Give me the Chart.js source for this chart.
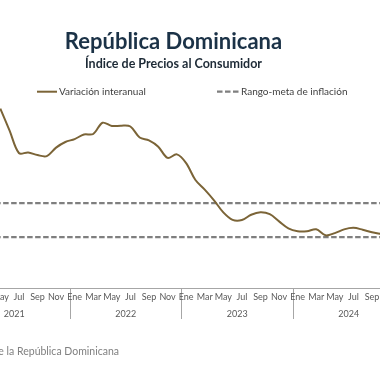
<!DOCTYPE html>
<html><head><meta charset="utf-8">
<script src="https://cdn.jsdelivr.net/npm/chart.js@4.4.1/dist/chart.umd.min.js"></script>
<style>
html,body{margin:0;padding:0;background:#fff;overflow:hidden;width:380px;height:380px;}
#wrap{position:absolute;left:-60px;top:0;width:467px;height:380px;}
</style></head><body>
<div id="wrap"><canvas id="c" width="467" height="380"></canvas></div>
<script>
// ---- data ----
const mesesAno = ['Ene','Feb','Mar','Abr','May','Jun','Jul','Ago','Sep','Oct','Nov','Dic'];
const anos = ['2021','2022','2023','2024'];
const categorias = [].concat(mesesAno, mesesAno, mesesAno, mesesAno);
const variacionInteranual = [
  null, null, null, null, 10.55, 9.26, 7.94, 7.97, 7.82, 7.76, 8.26, 8.59,
  8.76, 9.03, 9.06, 9.72, 9.53, 9.55, 9.50, 8.85, 8.68, 8.31, 7.65, 7.86,
  7.35, 6.35, 5.79, 5.16, 4.45, 4.01, 4.00, 4.31, 4.45, 4.34, 3.92, 3.51,
  3.34, 3.34, 3.45, 3.10, 3.23, 3.45, 3.54, 3.43, 3.28, 3.18, null, null
];
const metaSuperior = [
  5,5,5,5,5,5,5,5,5,5,5,5, 5,5,5,5,5,5,5,5,5,5,5,5,
  5,5,5,5,5,5,5,5,5,5,5,5, 5,5,5,5,5,5,5,5,5,5,5,5
];
const metaInferior = [
  3,3,3,3,3,3,3,3,3,3,3,3, 3,3,3,3,3,3,3,3,3,3,3,3,
  3,3,3,3,3,3,3,3,3,3,3,3, 3,3,3,3,3,3,3,3,3,3,3,3
];
const etiquetaSerie = 'Variación interanual';
const etiquetaMeta = 'Rango-meta de inflación';
const fuente = 'Fuente: Banco Central de la República Dominicana';

// ---- styles ----
const PX = 60; // page -> canvas x offset
const colLinea = '#7B6437';
const colMeta = '#7F7F7F';
const dashMeta = [5.5, 2.5];

const decor = {
  id: 'decor',
  afterDraw(chart) {
    const ctx = chart.ctx;
    ctx.save();
    const ly = 91.7;
    // legend item 1
    ctx.lineWidth = 2; ctx.strokeStyle = colLinea; ctx.setLineDash([]);
    ctx.beginPath(); ctx.moveTo(37 + PX, ly); ctx.lineTo(57 + PX, ly); ctx.stroke();
    ctx.font = '10px Lato'; ctx.fillStyle = '#404040';
    ctx.textBaseline = 'middle'; ctx.textAlign = 'left';
    ctx.fillText(chart.data.datasets[0].label, 59 + PX, ly);
    // legend item 2
    ctx.lineWidth = 2.25; ctx.strokeStyle = colMeta; ctx.setLineDash(dashMeta);
    ctx.beginPath(); ctx.moveTo(217 + PX, ly); ctx.lineTo(239 + PX, ly); ctx.stroke();
    ctx.setLineDash([]);
    ctx.fillText(chart.data.datasets[1].label, 241 + PX, ly);
    // source
    ctx.font = '10.5px Lato';
    ctx.fillStyle = '#808080'; ctx.textAlign = 'right';
    ctx.fillText(fuente, 119 + PX, 352);
    ctx.restore();
  }
};

new Chart(document.getElementById('c'), {
  type: 'line',
  data: {
    labels: categorias,
    datasets: [
      { label: etiquetaSerie, data: variacionInteranual, borderColor: colLinea, borderWidth: 2,
        pointRadius: 0, tension: 0.33, fill: false, order: 0 },
      { label: etiquetaMeta, data: metaSuperior, borderColor: colMeta, borderWidth: 2.25,
        borderDash: dashMeta, pointRadius: 0, tension: 0, fill: false, order: 1 },
      { label: etiquetaMeta, data: metaInferior, borderColor: colMeta, borderWidth: 2.25,
        borderDash: dashMeta, pointRadius: 0, tension: 0, fill: false, order: 2 }
    ]
  },
  options: {
    responsive: false,
    animation: false,
    events: [],
    layout: { padding: { left: 0, right: 0, top: 0, bottom: 59 } },
    plugins: {
      legend: { display: false },
      tooltip: { enabled: false },
      title: { display: true, text: 'República Dominicana', color: '#1B3247',
        font: { family: 'Lato', size: 22, weight: 'bold', lineHeight: 1.2 },
        padding: { top: 28.3, bottom: 2.1 } },
      subtitle: { display: true, text: 'Índice de Precios al Consumidor', color: '#1D2A36',
        font: { family: 'Lato', size: 12.5, weight: 'bold', lineHeight: 1.2 },
        padding: { top: 0, bottom: 29.2 } }
    },
    scales: {
      x: {
        type: 'category', position: 'bottom', offset: true,
        grid: { display: true, offset: true, drawOnChartArea: false, drawTicks: true, tickLength: 31,
          lineWidth: 1,
          color: (c) => (c.index !== undefined && c.index % 12 === 0) ? '#A6A6A6' : 'rgba(0,0,0,0)' },
        border: { display: true, color: '#A6A6A6', width: 1 },
        ticks: { autoSkip: false, maxRotation: 0, minRotation: 0, padding: -27,
          color: '#595959', font: { family: 'Lato', size: 9 },
          callback: function (v, i) { return i % 2 === 0 ? categorias[i] : ''; } },
        afterFit: (s) => { s.height = 17; }
      },
      x2: {
        type: 'category', position: 'bottom', offset: true, labels: anos,
        grid: { display: false, drawTicks: false },
        border: { display: false },
        ticks: { autoSkip: false, maxRotation: 0, padding: 3.3, color: '#595959',
          font: { family: 'Lato', size: 9 } },
        afterFit: (s) => { s.height = 16; }
      },
      y: {
        position: 'left', min: 0, max: 11,
        grid: { display: false, drawTicks: false }, border: { display: false },
        ticks: { display: false },
        afterFit: (s) => { s.width = 18.5; }
      },
      yR: {
        type: 'linear', position: 'right', display: true,
        grid: { display: false, drawTicks: false }, border: { display: false },
        ticks: { display: false },
        afterFit: (s) => { s.width = 2.5; }
      }
    }
  },
  plugins: [decor]
});
</script>
</body></html>
